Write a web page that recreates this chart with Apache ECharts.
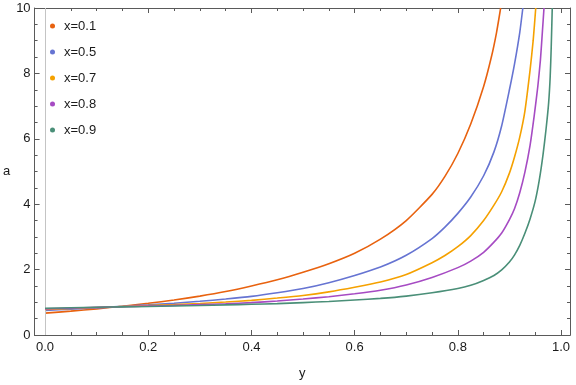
<!DOCTYPE html>
<html>
<head>
<meta charset="utf-8">
<script src="https://cdn.jsdelivr.net/npm/echarts@6/dist/echarts.min.js"></script>
<style>
  html, body { margin: 0; padding: 0; background: #fff; }
  #chart { width: 576px; height: 385px; }
</style>
</head>
<body>
<div id="chart"></div>
<script>
// values: y position -> a
var names = ['x=0.1', 'x=0.5', 'x=0.7', 'x=0.8', 'x=0.9'];
var colors = ['#E8620F', '#6674D2', '#F5A100', '#A64BC3', '#4A8F78'];

var y01 = [0, 0.05, 0.1, 0.15, 0.2, 0.25, 0.3, 0.35, 0.4, 0.45, 0.5, 0.55, 0.6, 0.65, 0.7, 0.75, 0.775, 0.8, 0.825, 0.85, 0.865, 0.875, 0.883];
var a01 = [0.67, 0.73, 0.8, 0.88, 0.97, 1.07, 1.19, 1.33, 1.5, 1.69, 1.92, 2.18, 2.5, 2.93, 3.5, 4.3, 4.85, 5.55, 6.45, 7.6, 8.5, 9.25, 10];

var y05 = [0, 0.05, 0.1, 0.15, 0.2, 0.25, 0.3, 0.35, 0.4, 0.45, 0.5, 0.55, 0.6, 0.65, 0.7, 0.75, 0.775, 0.8, 0.825, 0.85, 0.87, 0.885, 0.9, 0.91, 0.92, 0.926];
var a05 = [0.75, 0.79, 0.83, 0.875, 0.92, 0.97, 1.03, 1.1, 1.18, 1.29, 1.42, 1.6, 1.82, 2.08, 2.44, 2.95, 3.3, 3.72, 4.22, 4.87, 5.6, 6.4, 7.5, 8.3, 9.25, 10];

var y07 = [0, 0.05, 0.1, 0.15, 0.2, 0.25, 0.3, 0.35, 0.4, 0.45, 0.5, 0.55, 0.6, 0.65, 0.7, 0.75, 0.775, 0.8, 0.825, 0.85, 0.87, 0.885, 0.9, 0.91, 0.92, 0.93, 0.94, 0.946, 0.951];
var a07 = [0.78, 0.81, 0.84, 0.87, 0.9, 0.93, 0.965, 1.01, 1.06, 1.13, 1.21, 1.32, 1.46, 1.62, 1.85, 2.21, 2.43, 2.7, 3.04, 3.5, 3.97, 4.38, 4.95, 5.45, 6.05, 6.85, 8.1, 9.0, 10];

var y08 = [0, 0.05, 0.1, 0.15, 0.2, 0.25, 0.3, 0.35, 0.4, 0.45, 0.5, 0.55, 0.6, 0.65, 0.7, 0.75, 0.8, 0.825, 0.85, 0.87, 0.885, 0.9, 0.91, 0.92, 0.93, 0.94, 0.948, 0.955, 0.96, 0.964, 0.967];
var a08 = [0.8, 0.823, 0.845, 0.865, 0.885, 0.905, 0.93, 0.955, 0.99, 1.04, 1.1, 1.17, 1.26, 1.37, 1.53, 1.76, 2.06, 2.26, 2.53, 2.84, 3.12, 3.53, 3.87, 4.35, 4.98, 5.8, 6.7, 7.6, 8.4, 9.3, 10];

var y09 = [0, 0.05, 0.1, 0.15, 0.2, 0.25, 0.3, 0.35, 0.4, 0.45, 0.5, 0.55, 0.6, 0.65, 0.7, 0.75, 0.8, 0.825, 0.85, 0.87, 0.885, 0.9, 0.91, 0.92, 0.93, 0.94, 0.95, 0.958, 0.965, 0.971, 0.976, 0.979, 0.981, 0.983];
var a09 = [0.82, 0.835, 0.85, 0.86, 0.87, 0.885, 0.9, 0.92, 0.94, 0.96, 0.99, 1.025, 1.07, 1.12, 1.19, 1.29, 1.42, 1.52, 1.67, 1.82, 1.99, 2.23, 2.45, 2.74, 3.11, 3.55, 4.1, 4.75, 5.5, 6.3, 7.1, 7.9, 8.8, 10];

var xMajor = [0, 0.2, 0.4, 0.6, 0.8, 1.0];
var xMinor = [0.05, 0.1, 0.15, 0.25, 0.3, 0.35, 0.45, 0.5, 0.55, 0.65, 0.7, 0.75, 0.85, 0.9, 0.95];

var allY = [y01, y05, y07, y08, y09];
var allA = [a01, a05, a07, a08, a09];

var axisColor = '#5a5a5a';
var font = 'Liberation Sans, Arial, sans-serif';

function xAx(pos, ticks, len, labels) {
    return {
        type: 'value', position: pos, min: -0.0203, max: 1.0174,
        axisLine: { show: true, onZero: false, lineStyle: { color: axisColor, width: 1 } },
        axisTick: { show: true, inside: true, length: len, customValues: ticks, lineStyle: { color: axisColor } },
        axisLabel: labels ? { show: true, customValues: ticks, margin: 6, color: '#1a1a1a', fontSize: 13, fontFamily: font,
            formatter: function (v) { return v.toFixed(1); } } : { show: false },
        splitLine: { show: false }
    };
}
function yAx(pos, labels) {
    return {
        type: 'value', position: pos, min: 0, max: 10, interval: 2,
        axisLine: { show: true, onZero: false, lineStyle: { color: axisColor, width: 1 } },
        axisTick: { show: true, inside: true, length: 5, lineStyle: { color: axisColor } },
        minorTick: { show: true, splitNumber: 4, length: 3, lineStyle: { color: axisColor } },
        axisLabel: labels ? { show: true, margin: 4, color: '#1a1a1a', fontSize: 13, fontFamily: font } : { show: false },
        splitLine: { show: false }, minorSplitLine: { show: false }
    };
}

var chartDom = document.getElementById('chart');
var myChart = echarts.init(chartDom, null, { renderer: 'canvas' });

var xAxes = [xAx('bottom', xMajor, 5, true), xAx('bottom', xMinor, 3, false), xAx('top', xMajor, 5, false), xAx('top', xMinor, 3, false)];
xAxes[0].name = 'y';
xAxes[0].nameLocation = 'middle';
xAxes[0].nameGap = 32;
xAxes[0].nameTextStyle = { color: '#1a1a1a', fontSize: 13, fontFamily: font };

var yAxes = [yAx('left', true), yAx('right', false)];
yAxes[0].name = 'a';
yAxes[0].nameLocation = 'middle';
yAxes[0].nameRotate = 0;
yAxes[0].nameGap = 24;
yAxes[0].nameTextStyle = { color: '#1a1a1a', fontSize: 13, fontFamily: font };

var series = names.map(function (n, i) {
    var s = {
        name: n, type: 'line', xAxisIndex: 0, yAxisIndex: 0,
        data: allY[i].map(function (y, j) { return [y, allA[i][j]]; }),
        smooth: 0.2, showSymbol: false, clip: true,
        lineStyle: { color: colors[i], width: 1.6 }, itemStyle: { color: colors[i] },
        z: 3 + i
    };
    if (i === 0) {
        s.markLine = {
            silent: true, symbol: 'none', label: { show: false },
            lineStyle: { color: '#c4c4c4', type: 'solid', width: 1 },
            data: [{ xAxis: 0 }]
        };
    }
    return s;
});

var option = {
    animation: false,
    backgroundColor: '#fff',
    grid: { left: 33, right: 6, top: 8, bottom: 44, containLabel: false },
    legend: {
        orient: 'vertical', left: 45, top: 14, itemWidth: 5, itemHeight: 5, itemGap: 12, icon: 'circle',
        textStyle: { fontSize: 13, fontFamily: font, color: '#1a1a1a', lineHeight: 14, padding: [0, 0, 0, 4] },
        data: names
    },
    xAxis: xAxes,
    yAxis: yAxes,
    series: series
};

option && myChart.setOption(option);
</script>
</body>
</html>
